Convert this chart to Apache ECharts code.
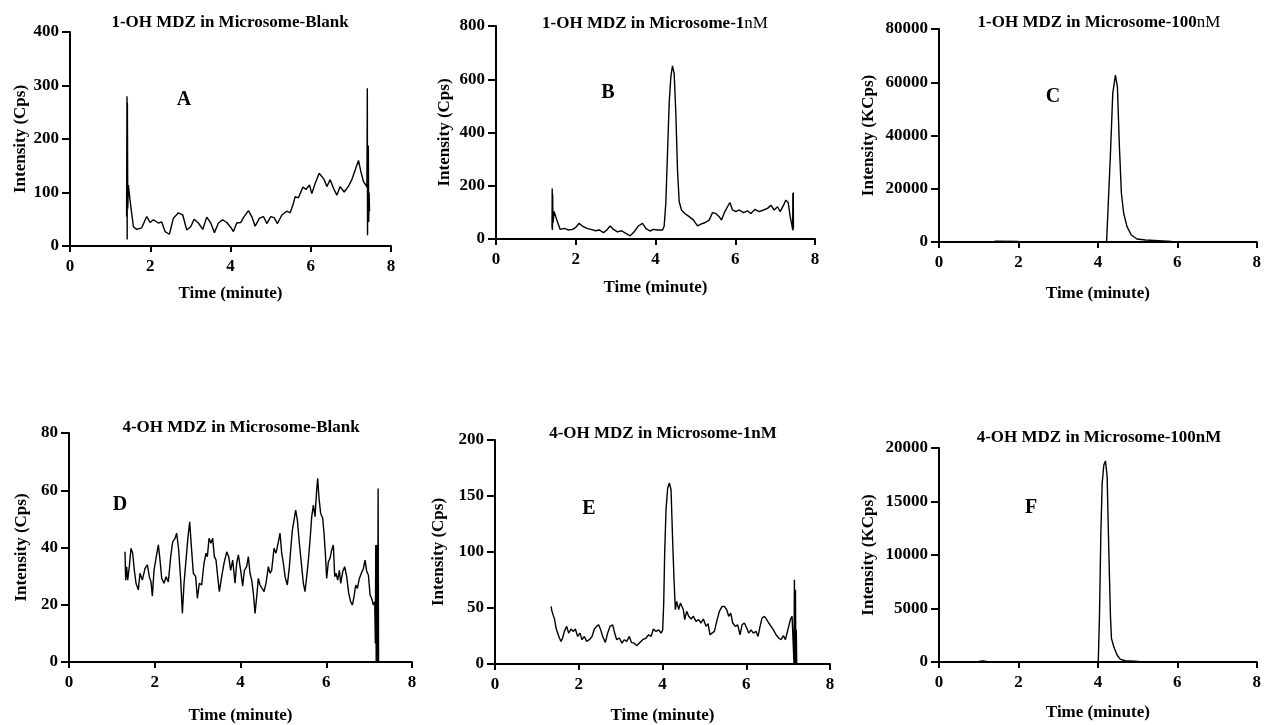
<!DOCTYPE html>
<html><head><meta charset="utf-8">
<script src="https://cdn.jsdelivr.net/npm/echarts@6/dist/echarts.min.js"></script>
<style>html,body{margin:0;padding:0;background:#fff}#c{width:1264px;height:725px}</style>
</head><body><div id="c"></div><script>
// ---- data: [time (minute), intensity] ----
const traceA = [[1.41,55],[1.42,280],[1.425,12],[1.43,268],[1.44,70],[1.455,114],[1.496,86],[1.58,36],[1.663,31],[1.787,34],[1.912,55],[1.995,44],[2.078,49],[2.203,43],[2.286,45],[2.369,27],[2.477,22],[2.577,52],[2.702,62],[2.81,58],[2.91,30],[3.009,36],[3.092,50],[3.2,43],[3.309,31],[3.408,54],[3.508,43],[3.6,25],[3.699,43],[3.807,49],[3.907,44],[4.015,34],[4.073,27],[4.156,43],[4.256,44],[4.339,55],[4.447,66],[4.53,55],[4.614,37],[4.722,52],[4.822,55],[4.904,42],[5.004,55],[5.087,53],[5.171,42],[5.279,58],[5.403,65],[5.486,62],[5.553,76],[5.611,92],[5.694,90],[5.802,110],[5.885,106],[5.969,114],[6.027,98],[6.11,117],[6.21,136],[6.276,130],[6.334,124],[6.401,111],[6.484,124],[6.567,108],[6.65,95],[6.733,111],[6.833,101],[6.941,112],[7.024,124],[7.107,142],[7.19,160],[7.249,139],[7.315,120],[7.373,114],[7.40,110],[7.41,295],[7.415,20],[7.425,120],[7.435,188],[7.445,45],[7.455,100],[7.465,65]];
const traceB = [[1.405,40],[1.41,190],[1.415,34],[1.42,170],[1.43,60],[1.458,103],[1.525,71],[1.609,36],[1.709,40],[1.809,34],[1.918,36],[2.002,44],[2.085,59],[2.169,48],[2.278,40],[2.378,36],[2.503,31],[2.587,34],[2.696,24],[2.779,34],[2.863,49],[2.947,36],[3.047,27],[3.147,31],[3.256,21],[3.365,12],[3.465,27],[3.565,48],[3.674,59],[3.758,40],[3.858,30],[3.95,36],[4.05,34],[4.176,34],[4.217,48],[4.259,134],[4.301,322],[4.343,510],[4.385,610],[4.426,650],[4.468,622],[4.51,472],[4.552,259],[4.594,140],[4.652,109],[4.736,96],[4.845,84],[4.953,71],[5.054,49],[5.137,56],[5.238,61],[5.346,71],[5.43,99],[5.513,96],[5.597,84],[5.656,71],[5.739,103],[5.865,137],[5.931,109],[6.015,103],[6.099,109],[6.207,99],[6.308,106],[6.391,96],[6.492,111],[6.6,103],[6.709,109],[6.809,115],[6.893,127],[6.977,109],[7.06,121],[7.127,103],[7.211,127],[7.269,146],[7.328,137],[7.378,84],[7.42,53],[7.44,35],[7.445,172],[7.45,32],[7.455,175],[7.46,40]];
const traceC = [[1.40,300],[2.0,200],[3.0,150],[4.0,150],[4.22,200],[4.26,400],[4.317,33300],[4.375,55850],[4.442,62700],[4.492,58300],[4.542,35800],[4.592,18300],[4.65,10800],[4.733,5760],[4.842,2630],[4.983,1130],[5.192,750],[5.52,500],[5.86,250],[6.5,150],[7.0,100],[7.5,100]];
const traceD = [[1.306,38.5],[1.322,28.6],[1.345,33.3],[1.368,28.6],[1.407,33.3],[1.446,39.7],[1.485,38],[1.524,32],[1.563,27.5],[1.617,25.2],[1.656,31],[1.711,28.6],[1.773,32.7],[1.827,33.9],[1.874,29.8],[1.913,28],[1.944,23],[1.983,32],[2.029,36.2],[2.084,40.9],[2.123,35.6],[2.162,29.2],[2.216,27.5],[2.263,29.8],[2.317,28],[2.372,36.8],[2.418,42],[2.473,43.2],[2.511,45],[2.558,39.2],[2.605,28.6],[2.644,17],[2.683,27.5],[2.729,35.6],[2.776,43.8],[2.815,49],[2.854,40.3],[2.9,31],[2.955,29.8],[2.994,22.2],[3.04,27.5],[3.095,26.9],[3.149,34.5],[3.196,38],[3.227,36.8],[3.266,43.2],[3.312,41.5],[3.351,43.2],[3.39,36.8],[3.429,35.6],[3.468,29.8],[3.507,24.6],[3.561,29.8],[3.616,34.5],[3.678,38.5],[3.725,36.8],[3.771,32],[3.818,35.6],[3.872,27.5],[3.911,34.5],[3.95,37.4],[4.004,32],[4.051,26.5],[4.09,32],[4.144,33.3],[4.183,36.8],[4.222,31],[4.261,28.6],[4.3,24],[4.339,17],[4.378,22.8],[4.416,29.2],[4.455,26.9],[4.494,27.5],[4.549,24.6],[4.595,27.5],[4.65,33.3],[4.689,31],[4.727,32],[4.782,39.7],[4.829,38],[4.883,42],[4.922,45],[4.961,38],[5.0,34.5],[5.039,29.8],[5.093,26.9],[5.14,33.3],[5.171,39.2],[5.21,46.1],[5.249,46.7],[5.287,53.1],[5.326,49.6],[5.373,41.5],[5.427,33.3],[5.466,27.5],[5.505,24.6],[5.544,29.8],[5.583,35.6],[5.622,42.6],[5.661,50.8],[5.7,54.8],[5.738,50.8],[5.777,60.1],[5.8,64.2],[5.831,57.2],[5.87,51.9],[5.917,50.2],[5.948,45],[5.979,38],[6.01,29.2],[6.049,35],[6.088,36.2],[6.127,39.2],[6.166,40.9],[6.197,29.8],[6.228,31],[6.267,28.6],[6.306,32],[6.337,27.5],[6.384,31.6],[6.43,33.3],[6.477,29.8],[6.524,24],[6.57,21],[6.609,19.9],[6.648,22.8],[6.687,26.9],[6.726,25.7],[6.772,29.2],[6.819,31],[6.866,32.7],[6.905,35.6],[6.944,31.6],[6.983,30.4],[7.022,23.4],[7.06,22.2],[7.099,19.9],[7.13,21],[7.145,6.5],[7.155,40.9],[7.165,0],[7.175,22],[7.19,41],[7.2,0],[7.21,60.6],[7.22,0]];
const traceE = [[1.338,51.4],[1.361,47],[1.393,48.5],[1.425,39.6],[1.457,32.1],[1.497,27.6],[1.537,23.2],[1.576,20.2],[1.616,23.2],[1.656,29.1],[1.712,33.6],[1.759,27.6],[1.815,31.2],[1.871,29.1],[1.919,31.2],[1.974,24.6],[2.03,27.6],[2.078,21.7],[2.134,24.6],[2.189,20.2],[2.253,21.7],[2.317,24.6],[2.373,31.2],[2.428,33.6],[2.476,35],[2.524,30.5],[2.572,24.6],[2.635,19.3],[2.691,27.6],[2.747,33.6],[2.811,35],[2.858,27.6],[2.906,21.7],[2.97,23.2],[3.033,18.7],[3.089,21.7],[3.145,20.2],[3.209,24.6],[3.256,19.3],[3.32,18.7],[3.384,16.3],[3.447,18.7],[3.527,21.7],[3.607,23.2],[3.67,26.1],[3.726,24.6],[3.782,31.2],[3.845,29.1],[3.909,30.5],[3.965,27.6],[4.005,30.5],[4.029,54.4],[4.052,99.1],[4.084,137.8],[4.124,157.1],[4.164,161.6],[4.204,155.6],[4.244,108],[4.275,75.2],[4.307,48.5],[4.339,55.9],[4.387,48.5],[4.427,54.4],[4.467,55.9],[4.498,48.5],[4.53,39.6],[4.578,47],[4.626,42.6],[4.682,40.2],[4.737,42.6],[4.801,38.1],[4.865,39.6],[4.92,36.6],[4.976,40.2],[5.04,33.6],[5.088,36],[5.135,26.1],[5.183,27.6],[5.239,29.1],[5.295,38.1],[5.358,47],[5.422,51.4],[5.478,51.4],[5.533,48.5],[5.581,42.6],[5.629,45.5],[5.677,36.6],[5.74,33.6],[5.796,35],[5.852,26.1],[5.9,35],[5.955,36.6],[6.011,32.1],[6.059,27.6],[6.115,30.5],[6.17,27.6],[6.234,29.1],[6.282,24.6],[6.33,33.6],[6.377,41.1],[6.433,42.6],[6.489,39.6],[6.537,36.6],[6.592,33.6],[6.648,30.5],[6.712,26.1],[6.775,23.2],[6.831,21.7],[6.887,25.3],[6.935,21.7],[6.967,20.2],[7.014,33.6],[7.054,39.6],[7.094,42.6],[7.126,41.1],[7.14,1],[7.15,75.2],[7.163,1],[7.175,66.2],[7.185,1],[7.195,30.5],[7.205,0]];
const traceF = [[0.05,30],[0.5,20],[1.0,60],[1.1,90],[1.2,50],[2.0,30],[3.0,20],[3.9,20],[4.01,50],[4.04,4240],[4.075,12030],[4.108,16700],[4.15,18410],[4.192,18790],[4.233,17320],[4.275,10470],[4.317,4240],[4.342,2210],[4.40,1430],[4.483,650],[4.567,245],[4.69,120],[5.03,60],[6.0,30],[7.2,20]];

const xTicks = {min: 0, max: 8, interval: 2};
const titles = [
  ['1-OH MDZ in Microsome-Blank', ''],
  ['1-OH MDZ in Microsome-1', 'nM'],
  ['1-OH MDZ in Microsome-100', 'nM'],
  ['4-OH MDZ in Microsome-Blank', ''],
  ['4-OH MDZ in Microsome-1nM', ''],
  ['4-OH MDZ in Microsome-100nM', '']
];
const letters = ['A', 'B', 'C', 'D', 'E', 'F'];
const yNames = ['Intensity (Cps)', 'Intensity (Cps)', 'Intensity (KCps)', 'Intensity (Cps)', 'Intensity (Cps)', 'Intensity (KCps)'];
const yMax = [400, 800, 80000, 80, 200, 20000];
const yStep = [100, 200, 20000, 20, 50, 5000];
const traces = [traceA, traceB, traceC, traceD, traceE, traceF];

// ---- layout (pixels) ----
const layout = [
  {grid: [70, 32, 321, 214], xGap: 39, yGap: 41, title: [230, 23], letter: [184, 100]},
  {grid: [496, 26, 319, 213], xGap: 40, yGap: 43, title: [655, 24], letter: [608, 93]},
  {grid: [939, 29, 320, 213], xGap: 43, yGap: 62, title: [1099, 23], letter: [1053, 97]},
  {grid: [69, 433, 343, 229], xGap: 45, yGap: 39, title: [241, 428], letter: [120, 505]},
  {grid: [495, 440, 335, 224], xGap: 43, yGap: 48, title: [663, 434], letter: [589, 509]},
  {grid: [939, 448, 320, 214], xGap: 42, yGap: 62, title: [1099, 438], letter: [1031, 508]}
];

const FF = '"Liberation Serif", "Times New Roman", serif';
const black = '#000';
const txt = {color: black, fontFamily: FF, fontWeight: 'bold', fontSize: 17};

const grids = [], xAxes = [], yAxes = [], series = [], graphics = [];
layout.forEach((L, i) => {
  grids.push({left: L.grid[0], top: L.grid[1], width: L.grid[2], height: L.grid[3], containLabel: false});
  xAxes.push({
    type: 'value', gridIndex: i, min: xTicks.min, max: xTicks.max, interval: xTicks.interval,
    name: 'Time (minute)', nameLocation: 'middle', nameGap: L.xGap, nameTextStyle: txt,
    axisLine: {show: true, onZero: false, lineStyle: {color: black, width: 2}},
    axisTick: {show: true, length: 6, lineStyle: {color: black, width: 2}},
    axisLabel: Object.assign({margin: 12}, txt),
    splitLine: {show: false}
  });
  yAxes.push({
    type: 'value', gridIndex: i, min: 0, max: yMax[i], interval: yStep[i],
    name: yNames[i], nameLocation: 'middle', nameGap: L.yGap, nameTextStyle: txt,
    axisLine: {show: true, lineStyle: {color: black, width: 2}},
    axisTick: {show: true, length: 8, lineStyle: {color: black, width: 2}},
    axisLabel: Object.assign({margin: 11, formatter: v => String(v)}, txt),
    splitLine: {show: false}
  });
  series.push({
    type: 'line', xAxisIndex: i, yAxisIndex: i, data: traces[i],
    showSymbol: false, symbol: 'none', silent: true,
    lineStyle: {color: black, width: 1.4}, z: 1
  });
  const t = titles[i];
  graphics.push({
    type: 'text', x: L.title[0], y: L.title[1],
    style: {
      text: '{b|' + t[0] + '}' + (t[1] ? '{n|' + t[1] + '}' : ''),
      rich: {
        b: {fontFamily: FF, fontWeight: 'bold', fontSize: 17, fill: black},
        n: {fontFamily: FF, fontWeight: 'normal', fontSize: 17, fill: black}
      },
      align: 'center', verticalAlign: 'middle'
    }
  });
  graphics.push({
    type: 'text', x: L.letter[0], y: L.letter[1],
    style: {text: letters[i], fontFamily: FF, fontWeight: 'bold', fontSize: 20, fill: black,
            align: 'center', verticalAlign: 'middle'}
  });
});

const chart = echarts.init(document.getElementById('c'), null, {renderer: 'canvas'});
chart.setOption({
  backgroundColor: '#fff',
  animation: false,
  grid: grids, xAxis: xAxes, yAxis: yAxes, series: series,
  graphic: graphics
});
</script></body></html>
